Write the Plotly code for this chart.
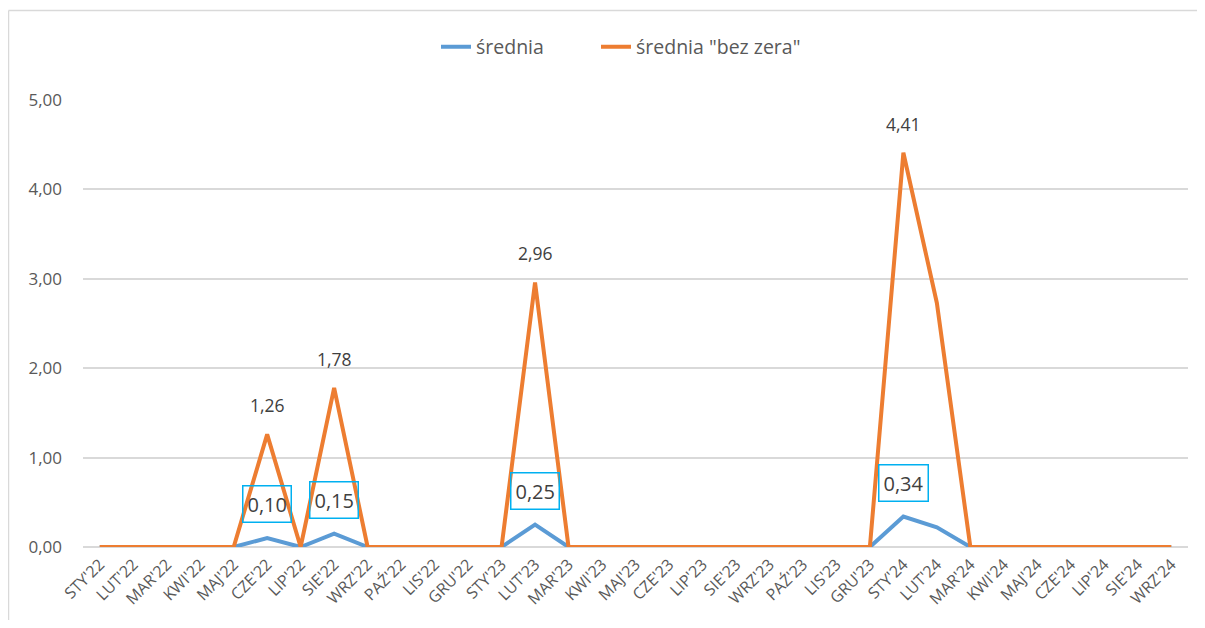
import plotly.graph_objects as go

months = ["STY'22", "LUT'22", "MAR'22", "KWI'22", "MAJ'22", "CZE'22", "LIP'22", "SIE'22",
          "WRZ'22", "PAŹ'22", "LIS'22", "GRU'22", "STY'23", "LUT'23", "MAR'23", "KWI'23",
          "MAJ'23", "CZE'23", "LIP'23", "SIE'23", "WRZ'23", "PAŹ'23", "LIS'23", "GRU'23",
          "STY'24", "LUT'24", "MAR'24", "KWI'24", "MAJ'24", "CZE'24", "LIP'24", "SIE'24",
          "WRZ'24"]

srednia = [0, 0, 0, 0, 0, 0.10, 0, 0.15, 0, 0, 0, 0, 0, 0.25, 0, 0, 0, 0, 0, 0, 0, 0, 0, 0,
           0.34, 0.22, 0, 0, 0, 0, 0, 0, 0]
bez_zera = [0, 0, 0, 0, 0, 1.26, 0, 1.78, 0, 0, 0, 0, 0, 2.96, 0, 0, 0, 0, 0, 0, 0, 0, 0, 0,
            4.41, 2.73, 0, 0, 0, 0, 0, 0, 0]

# which points get a data label
blue_labels = ["CZE'22", "SIE'22", "LUT'23", "STY'24"]
orange_labels = ["CZE'22", "SIE'22", "LUT'23", "STY'24"]

BLUE = '#5B9BD5'
ORANGE = '#ED7D31'
TXT = '#595959'
FONT = 'Open Sans, sans-serif'

# page body has an 8px margin, so the figure is drawn 8px in and kept inside the window
OFF = 8
W, H = 1205 - 2 * OFF, 628 - 2 * OFF
L, R, T, B = 83 - OFF, 9, 100 - OFF, 73

x_idx = list(range(len(months)))

fig = go.Figure()

fig.add_trace(go.Scatter(
    x=x_idx, y=srednia, mode='lines', name='średnia',
    line=dict(color=BLUE, width=4), cliponaxis=False, legend='legend'
))
fig.add_trace(go.Scatter(
    x=x_idx, y=bez_zera, mode='lines', name='średnia "bez zera"',
    line=dict(color=ORANGE, width=4), cliponaxis=False, legend='legend2'
))


def fmt(v):
    return f'{v:.2f}'.replace('.', ',')


annotations = []
for m in blue_labels:
    i = months.index(m)
    annotations.append(dict(
        x=i, y=srednia[i], xref='x', yref='y', text=fmt(srednia[i]),
        showarrow=False, yshift=34, yanchor='middle',
        font=dict(family=FONT, size=20, color='#404040'),
        bordercolor='#00B0F0', borderwidth=1.5, borderpad=4, bgcolor='rgba(0,0,0,0)'
    ))
for m in orange_labels:
    i = months.index(m)
    annotations.append(dict(
        x=i, y=bez_zera[i], xref='x', yref='y', text=fmt(bez_zera[i]),
        showarrow=False, yshift=29, yanchor='middle',
        font=dict(family=FONT, size=17.5, color='#404040')
    ))

# outer chart border (left and top edges visible); coords given in screen px
pw, ph = W - L - R, H - T - B
px = lambda p: (p - OFF - L) / pw
py = lambda p: (H - B - (p - OFF)) / ph
shapes = [
    dict(type='line', xref='paper', yref='paper', x0=px(8.5), x1=px(8.5), y0=py(10.5), y1=py(620),
         line=dict(color='#D9D9D9', width=1.5)),
    dict(type='line', xref='paper', yref='paper', x0=px(8.5), x1=px(1197), y0=py(10.5), y1=py(10.5),
         line=dict(color='#D9D9D9', width=1.5)),
]

leg = dict(orientation='h', xanchor='left', y=py(47), yanchor='middle',
           font=dict(size=19.5, color=TXT), bgcolor='rgba(0,0,0,0)')

fig.update_layout(
    width=W, height=H,
    margin=dict(l=L, r=R, t=T, b=B, autoexpand=False),
    plot_bgcolor='white', paper_bgcolor='white',
    font=dict(family=FONT, color=TXT),
    showlegend=True,
    legend=dict(leg, x=px(436)),
    legend2=dict(leg, x=px(596)),
    annotations=annotations,
    shapes=shapes,
)

fig.update_xaxes(
    range=[-0.5, len(months) - 0.5], automargin=False,
    tickmode='array', tickvals=x_idx, ticktext=months,
    tickangle=-45, tickfont=dict(size=16, color=TXT),
    showgrid=False, zeroline=False, showline=False, ticks='', ticklabelstandoff=4
)
fig.update_yaxes(
    range=[0, 5], tickvals=[0, 1, 2, 3, 4, 5], automargin=False,
    ticktext=[fmt(v) for v in [0, 1, 2, 3, 4, 5]],
    tickfont=dict(size=17, color=TXT),
    showgrid=True, gridcolor='#D9D9D9', gridwidth=1.5,
    zeroline=True, zerolinecolor='#D9D9D9', zerolinewidth=1.5,
    showline=False, ticks='', ticklabelstandoff=20
)

fig.write_html("out.html")
